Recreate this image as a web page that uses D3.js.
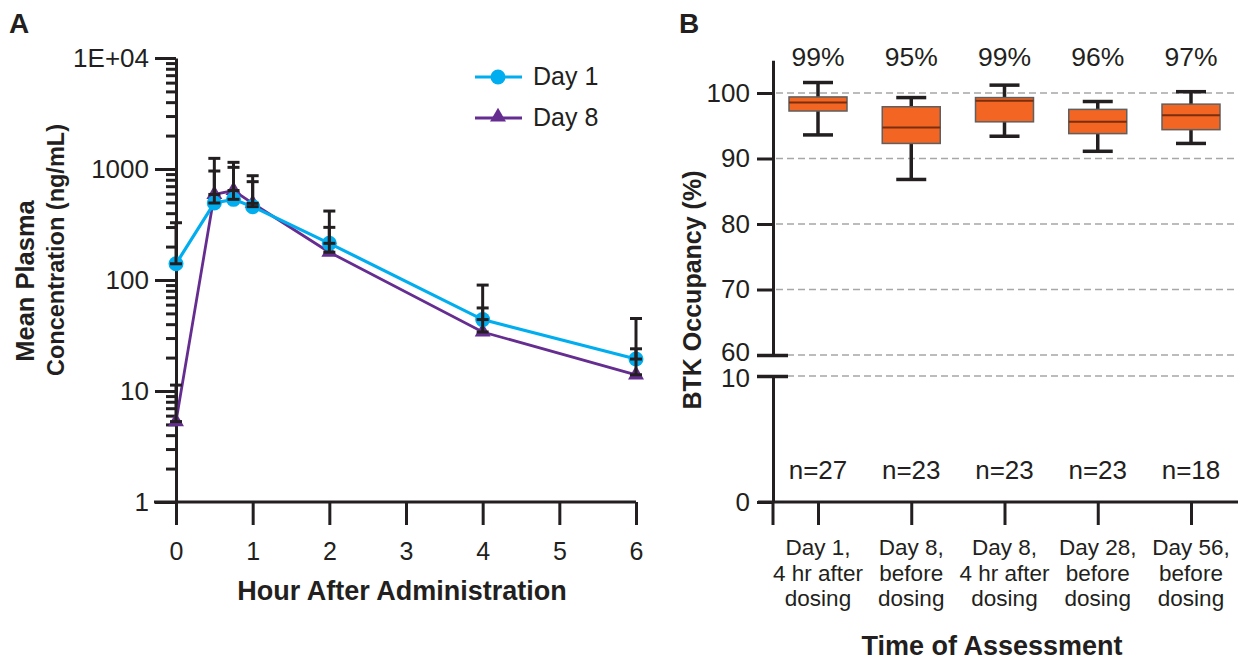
<!DOCTYPE html>
<html><head><meta charset="utf-8">
<script src="https://cdn.jsdelivr.net/npm/d3@7"></script>
<style>
body{margin:0;background:#fff}
svg{display:block}
text{font-family:"Liberation Sans",Arial,Helvetica,sans-serif;fill:#231F20}
</style>
</head><body>
<svg id="c" width="1238" height="662"></svg>
<script>
// ---------- Panel A data ----------
const hours = [0, 0.5, 0.75, 1, 2, 4, 6];
const day1Mean  = [140, 494, 533, 458, 214, 44, 19.4];
const day1Upper = [328, 1247, 1148, 870, 418, 90, 45];
const day8Mean  = [5.3, 590, 640, 490, 178, 34, 14];
const day8Upper = [11.3, 959, 1035, 769, 298, 56, 24];
const logTicks = [1, 10, 100, 1000, 10000];
const hourTicks = [0, 1, 2, 3, 4, 5, 6];
const seriesNames = ["Day 1", "Day 8"];

// ---------- Panel B data ----------
const occCategories = ["Day 1,|4 hr after|dosing", "Day 8,|before|dosing", "Day 8,|4 hr after|dosing", "Day 28,|before|dosing", "Day 56,|before|dosing"];
const occWhiskerLow  = [93.6, 86.8, 93.4, 91.1, 92.3];
const occQ1          = [97.25, 92.3, 95.6, 93.8, 94.4];
const occMedian      = [98.55, 94.75, 98.8, 95.6, 96.6];
const occQ3          = [99.4, 97.9, 99.3, 97.5, 98.3];
const occWhiskerHigh = [101.6, 99.3, 101.2, 98.7, 100.2];
const occPctLabels = ["99%", "95%", "99%", "96%", "97%"];
const occN = ["n=27", "n=23", "n=23", "n=23", "n=18"];
const occUpperTicks = [70, 80, 90, 100];
const occBreakTicks = [60, 10];
const occLowerTicks = [0];

const ink = "#231F20";
const blue = "#00AEEF";
const purple = "#662D91";
const orange = "#F26522";
const svg = d3.select("#c");

function styleAxis(g, w) {
  g.selectAll("path.domain").attr("stroke", ink).attr("stroke-width", w);
  g.selectAll(".tick line").attr("stroke", ink).attr("stroke-width", w);
  g.selectAll(".tick text").attr("fill", ink).style("font-family", '"Liberation Sans",Arial,sans-serif');
}

// ================= PANEL A =================
const xA = d3.scaleLinear().domain([0, 6]).range([176, 636]);
const yA = d3.scaleLog().domain([1, 10000]).range([502, 58]);

svg.append("text").attr("x", 9).attr("y", 33).attr("font-size", 28).attr("font-weight", "bold").text("A");

// minor ticks
const minor = [];
for (let d = 1; d < 10000; d *= 10) for (let k = 2; k < 10; k++) minor.push(k * d);
const gMin = svg.append("g").attr("transform", `translate(${xA(0)},0)`)
  .call(d3.axisLeft(yA).tickValues(minor).tickSize(10).tickSizeOuter(0).tickFormat(""));
gMin.select("path.domain").remove();
styleAxis(gMin, 3);

const gYA = svg.append("g").attr("transform", `translate(${xA(0)},0)`)
  .call(d3.axisLeft(yA).tickValues(logTicks).tickSize(21).tickSizeOuter(0).tickPadding(6)
    .tickFormat(d => d === 10000 ? "1E+04" : d3.format("d")(d)));
gYA.selectAll(".tick text").attr("font-size", 26);
styleAxis(gYA, 3);

const gXA = svg.append("g").attr("transform", `translate(0,${yA(1)})`)
  .call(d3.axisBottom(xA).tickValues(hourTicks).tickSize(23).tickSizeOuter(0).tickPadding(17).tickFormat(d3.format("d")));
gXA.select("path.domain").remove();
gXA.selectAll(".tick text").attr("font-size", 25);
styleAxis(gXA, 3);
svg.append("line").attr("x1", xA(0) - 22).attr("x2", xA(6)).attr("y1", yA(1)).attr("y2", yA(1))
  .attr("stroke", ink).attr("stroke-width", 3);

svg.append("text").attr("x", 402).attr("y", 600).attr("text-anchor", "middle")
  .attr("font-size", 27).attr("font-weight", "bold").text("Hour After Administration");

svg.append("text").attr("transform", "translate(34,281) rotate(-90)").attr("text-anchor", "middle")
  .attr("font-size", 25.5).attr("font-weight", "bold").text("Mean Plasma");
svg.append("text").attr("transform", "translate(64,250) rotate(-90)").attr("text-anchor", "middle")
  .attr("font-size", 23.5).attr("font-weight", "bold").text("Concentration (ng/mL)");

const line = d3.line().x(d => xA(d[0])).y(d => yA(d[1]));
const d1 = hours.map((h, i) => [h, day1Mean[i], day1Upper[i]]);
const d8 = hours.map((h, i) => [h, day8Mean[i], day8Upper[i]]);

svg.append("path").datum(d8).attr("d", line).attr("fill", "none").attr("stroke", purple).attr("stroke-width", 2.8);
svg.append("path").datum(d1).attr("d", line).attr("fill", "none").attr("stroke", blue).attr("stroke-width", 3.2);

const tri = d3.symbol().type(d3.symbolTriangle).size(110);
svg.append("g").selectAll("path").data(d8).join("path")
  .attr("transform", d => `translate(${xA(d[0])},${yA(d[1])})`).attr("d", tri).attr("fill", purple);
svg.append("g").selectAll("circle").data(d1).join("circle")
  .attr("cx", d => xA(d[0])).attr("cy", d => yA(d[1])).attr("r", 7.5).attr("fill", blue);

// error bars (mean to mean + SD)
function errBars(data) {
  const g = svg.append("g").attr("stroke", ink).attr("stroke-width", 3);
  data.forEach(d => {
    const x = xA(d[0]);
    g.append("line").attr("x1", x).attr("x2", x).attr("y1", yA(d[1])).attr("y2", yA(d[2]));
    [d[1], d[2]].forEach(v => g.append("line").attr("x1", x - 6).attr("x2", x + 6).attr("y1", yA(v)).attr("y2", yA(v)));
  });
}
errBars(d8);
errBars(d1);

// legend
const leg = svg.append("g");
[[blue, 77], [purple, 118]].forEach(([c, y], i) => {
  leg.append("line").attr("x1", 475).attr("x2", 522).attr("y1", y).attr("y2", y).attr("stroke", c).attr("stroke-width", 3.2);
  if (i === 0) leg.append("circle").attr("cx", 498).attr("cy", y).attr("r", 7.5).attr("fill", c);
  else leg.append("path").attr("transform", `translate(498,${y - 1})`).attr("d", tri).attr("fill", c);
  leg.append("text").attr("x", 533).attr("y", y + 8).attr("font-size", 25).text(seriesNames[i]);
});

// ================= PANEL B =================
const xB = d3.scalePoint().domain(occCategories).range([818, 1191]);
const yU = d3.scaleLinear().domain([60, 105]).range([355, 60.25]);
const yL = d3.scaleLinear().domain([0, 10]).range([502, 376]);
const axX = 773;

svg.append("text").attr("x", 679).attr("y", 33).attr("font-size", 28).attr("font-weight", "bold").text("B");

// gridlines
const grid = svg.append("g");
occUpperTicks.concat([60]).forEach(v => grid.append("line").attr("x1", axX + 3).attr("x2", 1238)
  .attr("y1", yU(v)).attr("y2", yU(v)).attr("stroke", "#a7a7a7").attr("stroke-width", 1.3).attr("stroke-dasharray", "7,4"));
grid.append("line").attr("x1", axX + 3).attr("x2", 1238).attr("y1", yL(10)).attr("y2", yL(10))
  .attr("stroke", "#a7a7a7").attr("stroke-width", 1.3).attr("stroke-dasharray", "7,4");

// upper axis
const gU = svg.append("g").attr("transform", `translate(${axX},0)`)
  .call(d3.axisLeft(yU).tickValues(occUpperTicks).tickSize(16).tickSizeOuter(0).tickPadding(7));
gU.selectAll(".tick text").attr("font-size", 26);
styleAxis(gU, 3);
// break ticks
const gBrU = svg.append("g").attr("transform", `translate(${axX},0)`)
  .call(d3.axisLeft(yU).tickValues([60]).tickSize(16).tickSizeOuter(0).tickPadding(7));
gBrU.select("path.domain").remove();
gBrU.selectAll(".tick text").attr("font-size", 26).attr("dy", "0.2em");
gBrU.selectAll(".tick line").attr("x2", -16).attr("x1", 15);
styleAxis(gBrU, 3.5);

const gL = svg.append("g").attr("transform", `translate(${axX},0)`)
  .call(d3.axisLeft(yL).tickValues([0, 10]).tickSize(16).tickSizeOuter(0).tickPadding(7));
gL.selectAll(".tick text").attr("font-size", 26);
gL.selectAll(".tick").filter(d => d === 10).select("text").attr("dy", "0.42em");
gL.selectAll(".tick").filter(d => d === 10).select("line").attr("x1", 15);
styleAxis(gL, 3);
gL.selectAll(".tick").filter(d => d === 10).select("line").attr("stroke-width", 3.5);
// y axis extension below baseline
svg.append("line").attr("x1", axX).attr("x2", axX).attr("y1", yL(0)).attr("y2", yL(0) + 23).attr("stroke", ink).attr("stroke-width", 3);

// x axis B
const gXB = svg.append("g").attr("transform", `translate(0,${yL(0)})`)
  .call(d3.axisBottom(xB).tickSize(23).tickSizeOuter(0).tickFormat(""));
gXB.select("path.domain").remove();
styleAxis(gXB, 3);
svg.append("line").attr("x1", axX - 15).attr("x2", 1238).attr("y1", yL(0)).attr("y2", yL(0)).attr("stroke", ink).attr("stroke-width", 3);

occCategories.forEach(c => {
  const lines = c.split("|");
  const t = svg.append("text").attr("text-anchor", "middle").attr("font-size", 22.5);
  lines.forEach((l, j) => t.append("tspan").attr("x", xB(c)).attr("y", 555 + j * 25.5).text(l));
});

svg.append("text").attr("x", 992).attr("y", 655).attr("text-anchor", "middle")
  .attr("font-size", 27).attr("font-weight", "bold").text("Time of Assessment");

svg.append("text").attr("transform", "translate(701,290) rotate(-90)").attr("text-anchor", "middle")
  .attr("font-size", 25).attr("font-weight", "bold").text("BTK Occupancy (%)");

// boxes
const bw = 58, cw = 30;
const boxG = svg.append("g");
occCategories.forEach((c, i) => {
  const x = xB(c);
  boxG.append("line").attr("x1", x).attr("x2", x).attr("y1", yU(occWhiskerLow[i])).attr("y2", yU(occWhiskerHigh[i]))
    .attr("stroke", ink).attr("stroke-width", 3.5);
  [occWhiskerLow[i], occWhiskerHigh[i]].forEach(v => boxG.append("line").attr("x1", x - cw / 2).attr("x2", x + cw / 2)
    .attr("y1", yU(v)).attr("y2", yU(v)).attr("stroke", ink).attr("stroke-width", 3.5));
  boxG.append("rect").attr("x", x - bw / 2).attr("width", bw).attr("y", yU(occQ3[i])).attr("height", yU(occQ1[i]) - yU(occQ3[i]))
    .attr("fill", orange).attr("stroke", "#5f5f5f").attr("stroke-width", 1.5);
  boxG.append("line").attr("x1", x - bw / 2).attr("x2", x + bw / 2).attr("y1", yU(occMedian[i])).attr("y2", yU(occMedian[i]))
    .attr("stroke", "#7a2e0e").attr("stroke-width", 2);
  svg.append("text").attr("x", x).attr("y", 66).attr("text-anchor", "middle").attr("font-size", 26.5).text(occPctLabels[i]);
  svg.append("text").attr("x", x).attr("y", 479).attr("text-anchor", "middle").attr("font-size", 26).text(occN[i]);
});
</script>
</body></html>
